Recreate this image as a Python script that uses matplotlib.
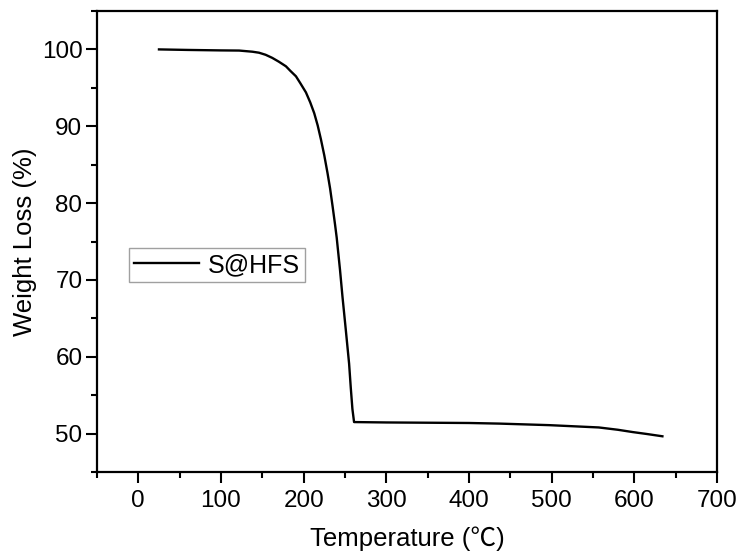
import matplotlib
matplotlib.use("Agg")
import matplotlib.pyplot as plt
from matplotlib.ticker import MultipleLocator

plt.rcParams['font.family'] = ['Liberation Sans', 'Noto Sans CJK SC', 'DejaVu Sans']

temperature = [25, 60, 100, 122, 138, 146, 154, 162, 170, 178.6, 184, 190.7, 196, 202.8,
               208, 212.8, 217, 220.9, 225, 228.9, 232, 235, 238, 240, 244, 247, 251,
               255, 257, 259, 261, 300, 400, 437, 497, 557, 580, 598, 615, 634]
weight = [100.0, 99.93, 99.87, 99.85, 99.7, 99.57, 99.3, 98.9, 98.4, 97.8, 97.2, 96.5,
          95.6, 94.4, 93.1, 91.7, 90.1, 88.3, 86.2, 83.9, 81.9, 79.6, 77.2, 75.5, 71.3,
          67.8, 63.5, 59.1, 56.0, 53.2, 51.5, 51.45, 51.38, 51.3, 51.1, 50.8, 50.5,
          50.2, 49.95, 49.65]

series_label = "S@HFS"
x_label = "Temperature (\u2103)"
y_label = "Weight Loss (%)"

fig = plt.figure(figsize=(7.38, 5.52), dpi=100)
ax = fig.add_axes([0.1314, 0.1449, 0.8401, 0.8352])

ax.plot(temperature, weight, color='black', linewidth=1.7, label=series_label,
        solid_joinstyle='round')

ax.set_xlim(-50, 700)
ax.set_ylim(45, 105)
ax.xaxis.set_major_locator(MultipleLocator(100))
ax.xaxis.set_minor_locator(MultipleLocator(50))
ax.yaxis.set_major_locator(MultipleLocator(10))
ax.yaxis.set_minor_locator(MultipleLocator(5))

ax.tick_params(which='major', direction='out', length=8, width=1.5, labelsize=17.5, pad=5)
ax.tick_params(axis='y', which='major', pad=2.5)
ax.tick_params(which='minor', direction='out', length=4.5, width=1.5)
ax.tick_params(top=False, right=False)
for s in ax.spines.values():
    s.set_linewidth(1.6)

ax.set_xlabel(x_label, fontsize=18.5, labelpad=10)
ax.set_ylabel(y_label, fontsize=18.5, labelpad=3)

leg = ax.legend(loc='upper left', bbox_to_anchor=(0.052, 0.486), fontsize=18,
                frameon=True, fancybox=False, handlelength=2.6, handletextpad=0.35,
                borderpad=0.2, borderaxespad=0)
leg.get_frame().set_edgecolor('#888888')
leg.get_frame().set_linewidth(1.0)

fig.savefig("out.png", dpi=100)
